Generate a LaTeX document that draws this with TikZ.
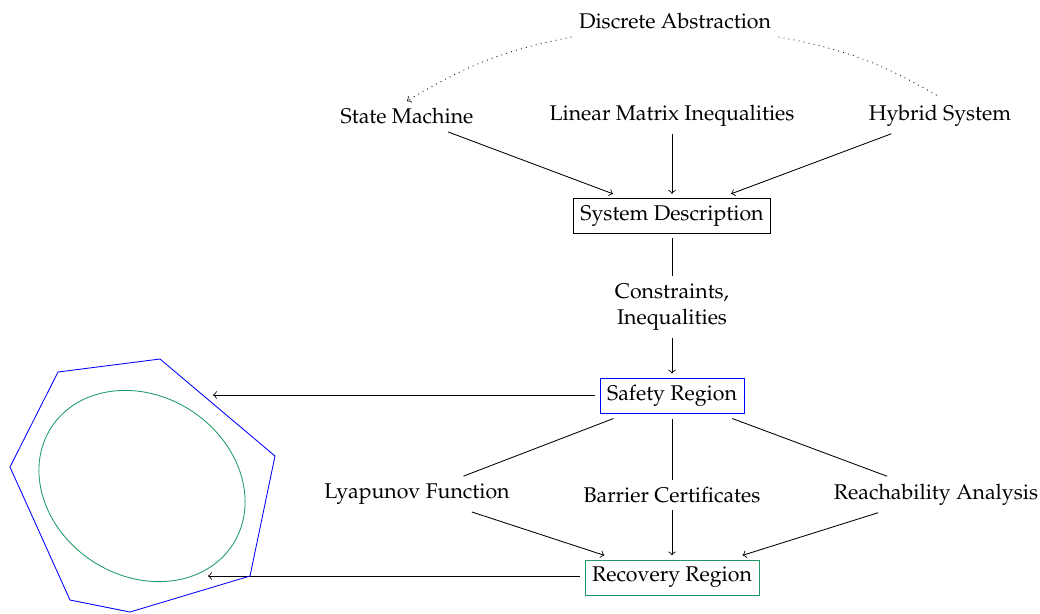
\documentclass[tikz,border=0pt]{standalone}
\usepackage[T1]{fontenc}
\usepackage{mathpazo}
\usetikzlibrary{arrows}
\definecolor{recgreen}{RGB}{30,155,100}
\begin{document}
\begin{tikzpicture}[x=0.0165cm,y=-0.0165cm,
  txt/.style={align=center,font=\fontsize{10}{12}\selectfont},
  boxnode/.style={txt,draw,outer sep=2.2pt},
  conn/.style={line width=0.4pt},
  arr/.style={conn,->}]
\useasboundingbox (0,0) rectangle (1040,613);
% nodes
\node[txt] (DA) at (675,21.5) {Discrete Abstraction};
\node[txt] (SM) at (407,116.5) {State Machine};
\node[txt] (LMI) at (672,115.5) {Linear Matrix Inequalities};
\node[txt] (HS) at (940,115.5) {Hybrid System};
\node[boxnode] (SD) at (672,216) {System Description};
\node[txt] (CI) at (672,307) {Constraints,\\Inequalities};
\node[boxnode,draw=blue] (SR) at (672,396) {Safety Region};
\node[txt] (LF) at (417,494) {Lyapunov Function};
\node[txt] (BC) at (672,495) {Barrier Certificates};
\node[txt] (RA) at (936,494.5) {Reachability Analysis};
\node[boxnode,draw=recgreen] (RR) at (672,577.5) {Recovery Region};
\coordinate (SRend) at (213,395);
\coordinate (RRend) at (208,576);
% dotted curves
\draw[dotted,->] (DA.south west) to[bend right=10] (SM.north);
\draw[dotted] (DA.south east) to[bend left=10] (HS.north);
% arrows
\draw[arr] (SM) -- (SD);
\draw[arr] (LMI) -- (SD);
\draw[arr] (HS) -- (SD);
\draw[conn] (SD) -- (CI);
\draw[arr] (CI) -- (SR);
\draw[conn] (SR) -- (LF);
\draw[conn] (SR) -- (BC);
\draw[conn] (SR) -- (RA);
\draw[arr] (LF) -- (RR);
\draw[arr] (BC) -- (RR);
\draw[arr] (RA) -- (RR);
\draw[arr] (SR.west |- SRend) -- (SRend);
\draw[arr] (RR.west |- RRend) -- (RRend);
% regions
\draw[blue] (58,372) -- (160,359) -- (275,456) -- (250,576) -- (130,612) -- (70,600) -- (10,467) -- cycle;
\draw[recgreen] (142,486) ellipse[x radius=108, y radius=90, rotate=-32.7];
\end{tikzpicture}
\end{document}
